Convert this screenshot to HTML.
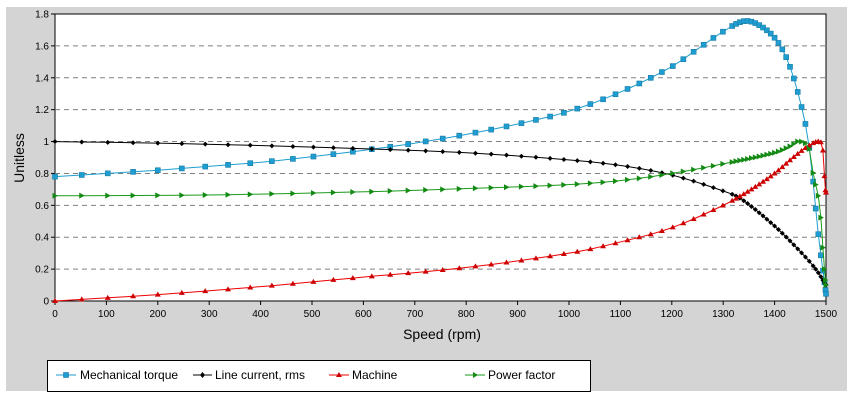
<!DOCTYPE html>
<html><head><meta charset="utf-8"><style>
body{margin:0;background:#fff;width:855px;height:400px;overflow:hidden;font-family:"Liberation Sans",Arial,sans-serif}
</style></head><body>
<svg id="s" width="855" height="400" xmlns="http://www.w3.org/2000/svg" font-family="Liberation Sans, Arial, sans-serif">
<rect x="6" y="7" width="841" height="384" fill="#d4d4d4"/>
<rect x="55" y="14" width="771" height="287" fill="#fff" stroke="#000" stroke-width="1"/>
<g id="grid"></g>
<g id="ticks" font-size="10" fill="#000"></g>
<text x="24" y="158" font-size="14" text-anchor="middle" transform="rotate(-90 24 158)">Unitless</text>
<text x="442" y="339" font-size="14" text-anchor="middle">Speed (rpm)</text>
<rect x="47.5" y="360.5" width="543" height="31" fill="#fff" stroke="#000"/>
<g font-size="12">
<line x1="56" y1="375" x2="76" y2="375" stroke="#1e9ed0"/><rect x="63.5" y="372.5" width="5" height="5" fill="#1e9ed0" stroke="#1a7ca8" stroke-width="0.6"/>
<text x="80" y="379">Mechanical torque</text>
<line x1="193" y1="375" x2="212" y2="375" stroke="#000"/><path d="M202.5 372 L205 375 L202.5 378 L200 375Z" fill="#000"/>
<text x="215" y="379">Line current, rms</text>
<line x1="329" y1="375" x2="349" y2="375" stroke="#e00"/><path d="M339 372 L342 377 L336 377Z" fill="#c00"/>
<text x="352" y="379">Machine</text>
<line x1="465" y1="375" x2="485" y2="375" stroke="#1a9a1a"/><path d="M473 372 L478 375 L473 378Z" fill="#138a13"/>
<text x="488" y="379">Power factor</text>
</g>
<g id="series"></g>
</svg>
<script>
var NS="http://www.w3.org/2000/svg";
function X(v){return 55+v/1500*771}
function Y(v){return 301-v/1.8*287}
function el(p,t,a){var e=document.createElementNS(NS,t);for(var k in a)e.setAttribute(k,a[k]);p.appendChild(e);return e}
var g=document.getElementById('grid'),tk=document.getElementById('ticks');
for(var i=0;i<=9;i++){var v=i*0.2,y=Y(v);
 if(i>0&&i<9)el(g,'line',{x1:55,x2:826,y1:y,y2:y,stroke:'#808080','stroke-dasharray':'5,4','stroke-width':1});
 el(tk,'line',{x1:51,x2:55,y1:y,y2:y,stroke:'#000'});
 var t=el(tk,'text',{x:49,y:y+3.5,'text-anchor':'end'});t.textContent=(Math.round(v*10)/10).toString();}
for(var i=0;i<=15;i++){var x=X(i*100);
 el(tk,'line',{x1:x,x2:x,y1:301,y2:305,stroke:'#000'});
 var t=el(tk,'text',{x:x,y:317,'text-anchor':'middle'});t.textContent=i*100;}
function interp(k,s){for(var i=0;i<k.length-1;i++){if(s<=k[i+1][0]){
 var p0=k[Math.max(i-1,0)],p1=k[i],p2=k[i+1],p3=k[Math.min(i+2,k.length-1)];
 var t=(s-p1[0])/(p2[0]-p1[0]);
 var m1=(p2[1]-p0[1])/(p2[0]-p0[0]||1)*(p2[0]-p1[0]),m2=(p3[1]-p1[1])/(p3[0]-p1[0]||1)*(p2[0]-p1[0]);
 if(i==0)m1=p2[1]-p1[1]; if(i==k.length-2)m2=p2[1]-p1[1];
 var t2=t*t,t3=t2*t;
 return (2*t3-3*t2+1)*p1[1]+(t3-2*t2+t)*m1+(-2*t3+3*t2)*p2[1]+(t3-t2)*m2;}}
 return k[k.length-1][1];}
var speeds=[];var s=0;
while(s<1478){speeds.push(s);var st=s<1300?Math.max(10,52-34*s/1300):7.5;s+=st;}
[1480,1485,1490,1494,1497,1499,1500].forEach(function(s){speeds.push(s)});
var data=[
 {c:'#1e9ed0',m:'sq',k:[[0,0.78],[100,0.80],[200,0.82],[300,0.845],[400,0.87],[500,0.905],[600,0.945],[700,0.99],[800,1.045],[900,1.11],[1000,1.19],[1100,1.31],[1200,1.47],[1250,1.58],[1300,1.69],[1340,1.755],[1370,1.73],[1405,1.63],[1432,1.45],[1460,1.11],[1471,0.87],[1480,0.58],[1486,0.39],[1494,0.19],[1500,0.045]]},
 {c:'#000',m:'di',k:[[0,1.0],[200,0.99],[400,0.975],[600,0.955],[800,0.93],[1000,0.885],[1100,0.85],[1200,0.79],[1300,0.69],[1335,0.64],[1400,0.47],[1450,0.31],[1480,0.2],[1500,0.1]]},
 {c:'#e00',m:'tr',k:[[0,0],[200,0.04],[400,0.09],[600,0.15],[800,0.21],[1000,0.3],[1100,0.37],[1200,0.46],[1300,0.6],[1350,0.69],[1400,0.8],[1440,0.91],[1465,0.97],[1485,1.0],[1493,0.97],[1496,0.85],[1498,0.72],[1500,0.68]]},
 {c:'#1a9a1a',m:'ri',k:[[0,0.66],[300,0.665],[600,0.685],[800,0.705],[1000,0.73],[1100,0.755],[1200,0.8],[1300,0.86],[1400,0.93],[1430,0.97],[1445,1.0],[1460,0.99],[1467,0.96],[1474,0.82],[1482,0.7],[1488,0.6],[1493,0.38],[1497,0.2],[1500,0.1]]}
];
var ser=document.getElementById('series');
data.forEach(function(d){
 var pts=speeds.map(function(s){return [X(s),Y(interp(d.k,s))]});
 el(ser,'polyline',{points:pts.map(function(p){return p[0].toFixed(1)+','+p[1].toFixed(1)}).join(' '),fill:'none',stroke:d.c,'stroke-width':1});
 pts.forEach(function(p){var x=p[0],y=p[1];
  if(d.m=='sq')el(ser,'rect',{x:x-2.5,y:y-2.5,width:5,height:5,fill:'#1e9ed0',stroke:'#1a7ca8','stroke-width':0.6});
  else if(d.m=='di')el(ser,'path',{d:'M'+x+' '+(y-2.5)+'L'+(x+2.5)+' '+y+'L'+x+' '+(y+2.5)+'L'+(x-2.5)+' '+y+'Z',fill:'#000'});
  else if(d.m=='tr')el(ser,'path',{d:'M'+x+' '+(y-3)+'L'+(x+3)+' '+(y+2)+'L'+(x-3)+' '+(y+2)+'Z',fill:'#c00'});
  else el(ser,'path',{d:'M'+(x-2.5)+' '+(y-3)+'L'+(x+3)+' '+y+'L'+(x-2.5)+' '+(y+3)+'Z',fill:'#138a13'});
 });
});
</script>
</body></html>
